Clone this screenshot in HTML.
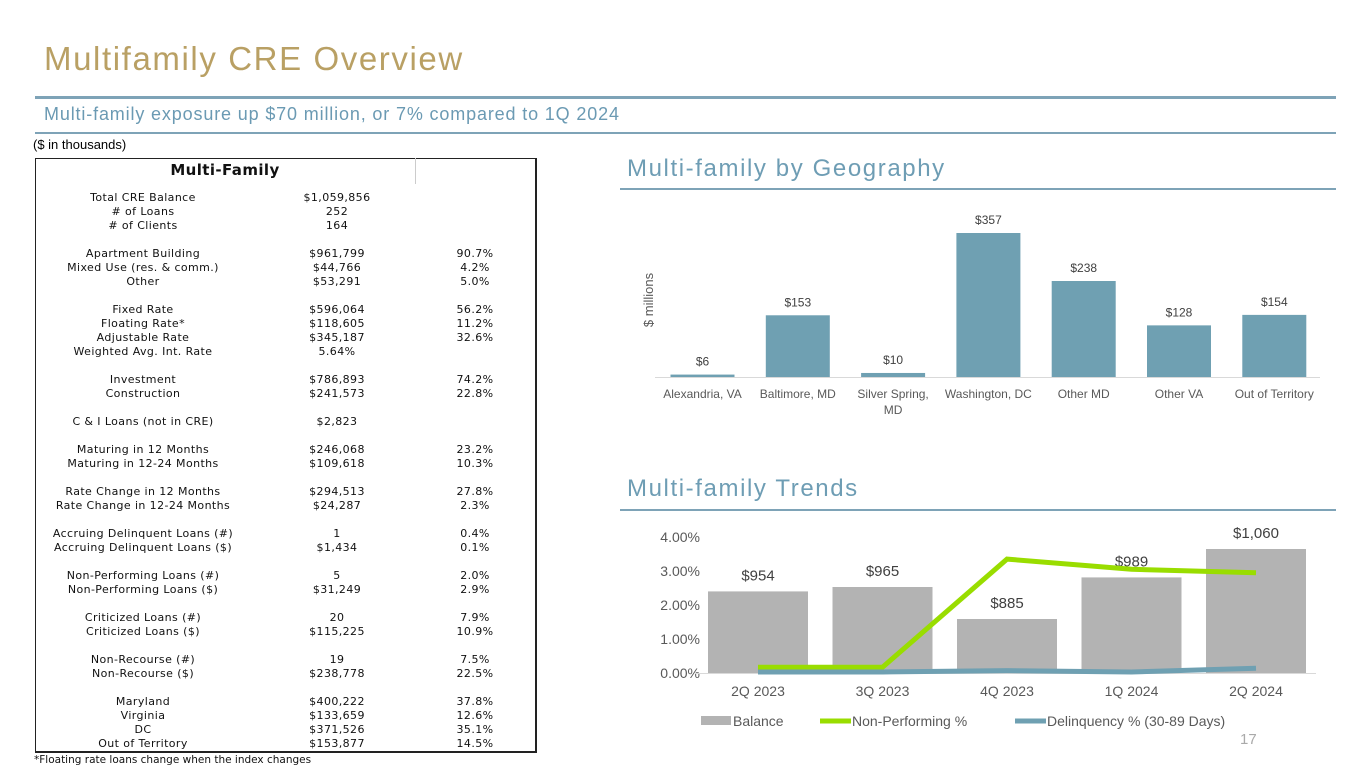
<!DOCTYPE html>
<html><head><meta charset="utf-8">
<style>
body{margin:0;width:1365px;height:768px;background:#fff;position:relative;overflow:hidden;font-family:"Liberation Sans",sans-serif}
.abs{position:absolute}
.tbl{position:absolute;left:35px;top:158px;width:502px;height:595px;border:1px solid #222;border-right:2px solid #222;border-bottom:2px solid #222;box-sizing:border-box}
.row{position:absolute;font-family:"DejaVu Sans",sans-serif;font-size:11px;letter-spacing:0.4px;color:#111;white-space:nowrap}
</style></head><body>
<div class="abs" style="left:44px;top:40px;font-size:33px;color:#B9A064;letter-spacing:1.6px">Multifamily CRE Overview</div>
<div class="abs" style="left:35px;top:96px;width:1301px;height:3px;background:#7EA3B7"></div>
<div class="abs" style="left:44px;top:104px;font-size:18px;color:#6B9AB3;letter-spacing:0.85px">Multi-family exposure up $70 million, or 7% compared to 1Q 2024</div>
<div class="abs" style="left:35px;top:132px;width:1301px;height:2px;background:#7EA3B7"></div>
<div class="abs" style="left:33px;top:137px;font-size:13px;color:#000">($ in thousands)</div>

<div class="tbl"></div>
<div class="abs" style="left:415px;top:158px;width:1px;height:26px;background:#ccc"></div>
<div class="row" style="left:35px;width:380px;text-align:center;top:161px;font-size:15px;font-weight:bold">Multi-Family</div>
<div id="rows"></div>
<div class="abs" style="left:34px;top:754px;font-family:'DejaVu Sans',sans-serif;font-size:10.5px;color:#111">*Floating rate loans change when the index changes</div>

<div class="abs" style="left:627px;top:155px;font-size:24px;color:#6E9DB4;letter-spacing:1.6px">Multi-family by Geography</div>
<div class="abs" style="left:620px;top:188px;width:716px;height:2px;background:#7EA3B7"></div>
<div class="abs" style="left:627px;top:475px;font-size:24px;color:#6E9DB4;letter-spacing:1.6px">Multi-family Trends</div>
<div class="abs" style="left:620px;top:509px;width:716px;height:2px;background:#7EA3B7"></div>

<svg id="geo" class="abs" style="left:0;top:0" width="1365" height="768"></svg>
<div class="abs" style="left:1240px;top:731px;font-size:15px;color:#aaa">17</div>

<script>
const rows=[
[0,"Total CRE Balance","$1,059,856",""],[1,"# of Loans","252",""],[2,"# of Clients","164",""],
[4,"Apartment Building","$961,799","90.7%"],[5,"Mixed Use (res. & comm.)","$44,766","4.2%"],[6,"Other","$53,291","5.0%"],
[8,"Fixed Rate","$596,064","56.2%"],[9,"Floating Rate*","$118,605","11.2%"],[10,"Adjustable Rate","$345,187","32.6%"],[11,"Weighted Avg. Int. Rate","5.64%",""],
[13,"Investment","$786,893","74.2%"],[14,"Construction","$241,573","22.8%"],
[16,"C & I Loans (not in CRE)","$2,823",""],
[18,"Maturing in 12 Months","$246,068","23.2%"],[19,"Maturing in 12-24 Months","$109,618","10.3%"],
[21,"Rate Change in 12 Months","$294,513","27.8%"],[22,"Rate Change in 12-24 Months","$24,287","2.3%"],
[24,"Accruing Delinquent Loans (#)","1","0.4%"],[25,"Accruing Delinquent Loans ($)","$1,434","0.1%"],
[27,"Non-Performing Loans (#)","5","2.0%"],[28,"Non-Performing Loans ($)","$31,249","2.9%"],
[30,"Criticized Loans (#)","20","7.9%"],[31,"Criticized Loans ($)","$115,225","10.9%"],
[33,"Non-Recourse (#)","19","7.5%"],[34,"Non-Recourse ($)","$238,778","22.5%"],
[36,"Maryland","$400,222","37.8%"],[37,"Virginia","$133,659","12.6%"],[38,"DC","$371,526","35.1%"],[39,"Out of Territory","$153,877","14.5%"]];
const R=document.getElementById('rows');
rows.forEach(r=>{
  const top=191+r[0]*14;
  [[r[1],33,220],[r[2],277,120],[r[3],420,110]].forEach((c,i)=>{
    if(!c[0])return;
    const d=document.createElement('div');d.className='row';
    
    
    d.style.left=c[1]+'px';d.style.width=c[2]+'px';d.style.textAlign='center';d.style.top=top+'px';
    d.textContent=c[0];R.appendChild(d);
  });
});

// Geography chart data
const geoCats=["Alexandria, VA","Baltimore, MD","Silver Spring,|MD","Washington, DC","Other MD","Other VA","Out of Territory"];
const geoVals=[6,153,10,357,238,128,154];
// Trends data
const trendCats=["2Q 2023","3Q 2023","4Q 2023","1Q 2024","2Q 2024"];
const balance=[954,965,885,989,1060];
const balanceLabels=["$954","$965","$885","$989","$1,060"];
const npl=[0.17,0.17,3.35,3.05,2.95];
const delinq=[0.03,0.03,0.07,0.03,0.14];
const pctTicks=[0,1,2,3,4];

const S=document.getElementById('geo');const NS='http://www.w3.org/2000/svg';
function el(t,a,txt){const e=document.createElementNS(NS,t);for(const k in a)e.setAttribute(k,a[k]);if(txt!==undefined)e.textContent=txt;S.appendChild(e);return e;}
const gx=i=>702.5+i*95.3, gy=v=>377-v*(144/357);
let e=el('line',{x1:655,x2:1320,y1:377.5,y2:377.5,stroke:'#d9d9d9'});


e=el('text',{x:0,y:0,transform:'translate(653,300) rotate(-90)','text-anchor':'middle','font-size':13,fill:'#595959','font-family':'Liberation Sans'},'$ millions');


geoVals.forEach((v,i)=>{
  const b=el('rect',{x:gx(i)-32,y:gy(v),width:64,height:377-gy(v),fill:'#6FA0B2'});
  
  
  const t=el('text',{x:gx(i),y:gy(v)-9,'text-anchor':'middle','font-size':12,fill:'#404040','font-family':'Liberation Sans'},'$'+v);
  
  
  geoCats[i].split('|').forEach((ln,j)=>{
    const c=el('text',{x:gx(i),y:398+j*16,'text-anchor':'middle','font-size':12,fill:'#595959','font-family':'Liberation Sans'},ln);
    
    
  });
});
const tx=i=>758+i*124.5, bx0=750, bpx=0.4, ty=p=>673-p*34;
pctTicks.forEach(p=>{
  const t=el('text',{x:700,y:ty(p)+5,'text-anchor':'end','font-size':14,fill:'#595959','font-family':'Liberation Sans'},p.toFixed(2)+'%');
  
  
});
e=el('line',{x1:695,x2:1316,y1:673.5,y2:673.5,stroke:'#d9d9d9'});


balance.forEach((v,i)=>{
  const h=(v-bx0)*bpx;
  const b=el('rect',{x:tx(i)-50,y:673-h,width:100,height:h,fill:'#B3B3B3'});
  
  
  const t=el('text',{x:tx(i),y:673-h-11,'text-anchor':'middle','font-size':15,fill:'#404040','font-family':'Liberation Sans'},balanceLabels[i]);
  
  
  const c=el('text',{x:tx(i),y:696,'text-anchor':'middle','font-size':14,fill:'#595959','font-family':'Liberation Sans'},trendCats[i]);
  
  
});
e=el('polyline',{points:npl.map((p,i)=>tx(i)+','+ty(p)).join(' '),fill:'none',stroke:'#99DD00','stroke-width':5});


e=el('polyline',{points:delinq.map((p,i)=>tx(i)+','+ty(p)).join(' '),fill:'none',stroke:'#6FA0B2','stroke-width':5});


e=el('rect',{x:701,y:716,width:30,height:9,fill:'#B3B3B3'});


e=el('text',{x:733,y:726,'font-size':14,fill:'#595959','font-family':'Liberation Sans'},'Balance');


e=el('line',{x1:820,x2:851,y1:721,y2:721,stroke:'#99DD00','stroke-width':5});


e=el('text',{x:852,y:726,'font-size':14,fill:'#595959','font-family':'Liberation Sans'},'Non-Performing %');


e=el('line',{x1:1015,x2:1046,y1:721,y2:721,stroke:'#6FA0B2','stroke-width':5});


e=el('text',{x:1047,y:726,'font-size':14,fill:'#595959','font-family':'Liberation Sans'},'Delinquency % (30-89 Days)');


</script>
</body></html>
